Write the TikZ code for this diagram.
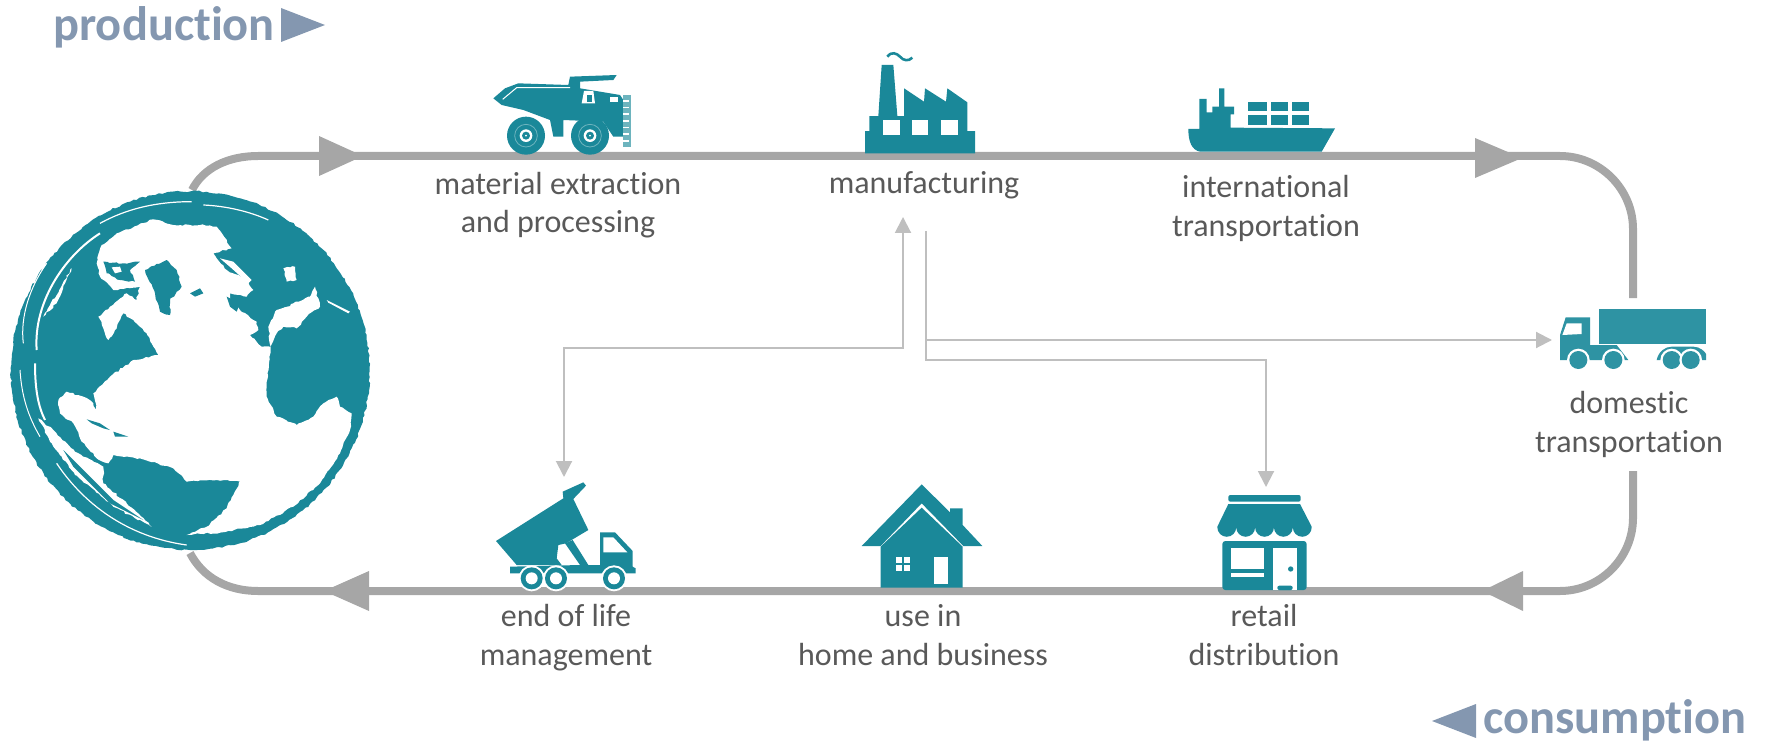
\documentclass[tikz,border=0pt]{standalone}
\usepackage{fontspec}
\setmainfont[Ligatures=NoCommon,RawFeature={-liga;-dlig}]{Carlito}
\usetikzlibrary{arrows.meta,decorations.pathmorphing}
\definecolor{teal1}{HTML}{1A8899}
\definecolor{teal2}{HTML}{2E93A3}
\definecolor{mainline}{HTML}{A6A6A6}
\definecolor{thinline}{HTML}{BFBFBF}
\definecolor{labeltext}{HTML}{595959}
\definecolor{phase}{HTML}{8497B0}
\tikzset{
  loopline/.style={draw=mainline,line width=4pt},
  loophead/.style={fill=mainline},
  flowplain/.style={draw=thinline,line width=1pt},
  headend/.style={-{Triangle[length=8pt,width=8pt]}},
  headboth/.style={{Triangle[length=8pt,width=8pt]}-{Triangle[length=8pt,width=8pt]}},
  steplabel/.style={anchor=base,align=center,inner sep=0pt,text=labeltext,font=\fontsize{16}{19.25}\selectfont},
  phaselabel/.style={anchor=base,inner sep=0pt,text=phase,font=\fontsize{24.2}{28}\selectfont\bfseries},
  ink/.style={fill=teal1},
  hole/.style={fill=white},
  jag/.style={decorate,decoration={random steps,segment length=1.6pt,amplitude=0.45pt}},
  zoomed/.style={shift={#1},x=0.16667pt,y=-0.16667pt}
}
\begin{document}
\begin{tikzpicture}[x=0.5pt,y=-0.5pt]
\useasboundingbox (0,0) rectangle (1765,743);
\pgfmathsetseed{42}
% named routing points
\coordinate (tl) at (192,190);
\coordinate (ttop) at (258,156);
\coordinate (tr) at (1560,156);
\coordinate (rtop) at (1633,229);
\coordinate (rtopend) at (1633,298);
\coordinate (rbotstart) at (1633,471);
\coordinate (rbot) at (1633,518);
\coordinate (br) at (1560,591);
\coordinate (bbot) at (258,591);
\coordinate (bl) at (190,553);
\coordinate (mfgin) at (903,217);
\coordinate (mfgout) at (926,231);
\coordinate (eolin) at (564,477);
\coordinate (retailin) at (1266,487);
\coordinate (truckin) at (1552,340);
\coordinate (mfgturn) at (926,340);
% main loop
\draw[loopline] (tl) .. controls (203,168) and (228,156) .. (ttop) -- (tr)
  .. controls (1600,156) and (1633,189) .. (rtop) -- (rtopend);
\draw[loopline] (rbotstart) -- (rbot) .. controls (1633,558) and (1600,591) .. (br) -- (bbot)
  .. controls (228,591) and (203,578) .. (bl);
\fill[loophead] (319,136) -- (363,156) -- (319,176) -- cycle;
\fill[loophead] (1475,138) -- (1522,158) -- (1475,178) -- cycle;
\fill[loophead] (1523,571) -- (1482,591) -- (1523,611) -- cycle;
\fill[loophead] (369,571) -- (324,591) -- (369,611) -- cycle;
% thin flows
\draw[flowplain,headboth] (mfgin) -- (mfgin |- 0,348) -- (eolin |- 0,348) -- (eolin);
\draw[flowplain,headend] (mfgout) -- (mfgturn) -- (truckin);
\draw[flowplain,headend] (mfgturn) -- (mfgout |- 0,360) -- (retailin |- 0,360) -- (retailin);
% globe
\begin{scope}[zoomed={(0,130)}]
  \fill[ink,jag] (571,722) circle[radius=538];
  \fill[hole,jag] (305,345) -- (350,310) -- (460,268) -- (520,285) -- (600,285) -- (650,290) -- (695,355)
    -- (640,370) -- (680,420) -- (740,450) -- (760,480) -- (740,500) -- (690,490) -- (690,510)
    -- (720,540) -- (770,575) -- (775,600) -- (750,615) -- (785,650) -- (812,650)
    -- (800,760) -- (800,800) -- (830,860) -- (890,885) -- (940,860) -- (970,820) -- (1010,800)
    -- (1020,830) -- (1055,850) -- (1050,900) -- (1020,970) -- (960,1060) -- (880,1130)
    -- (780,1185) -- (660,1208) -- (560,1215) -- (620,1190) -- (680,1135) -- (700,1095)
    -- (720,1055) -- (650,1050) -- (560,1055) -- (520,1015) -- (420,985) -- (340,975)
    -- (325,1000) -- (290,985) -- (240,925) -- (220,880) -- (180,850) -- (175,810) -- (200,785)
    -- (250,800) -- (280,820) -- (290,845) -- (280,790) -- (330,740) -- (400,690) -- (475,675)
    -- (440,610) -- (400,570) -- (370,550) -- (345,600) -- (325,630) -- (295,560) -- (330,530)
    -- (380,490) -- (410,510) -- (420,470) -- (340,480) -- (300,440) -- (290,400) -- cycle;
  % arctic islands
  \fill[ink,jag] (310,395) -- (370,400) -- (420,395) -- (390,420) -- (405,455) -- (360,450) -- (320,430) -- cycle;
  \fill[hole] (335,412) -- (360,410) -- (365,425) -- (345,430) -- cycle;
  % Mediterranean, inland seas
  \fill[hole,jag] (812,650) -- (805,590) -- (830,540) -- (880,520) -- (930,500) -- (945,470) -- (960,530)
    -- (920,560) -- (890,595) -- (850,590) -- (830,610) -- cycle;
  \fill[hole,jag] (850,415) -- (885,410) -- (890,450) -- (860,455) -- cycle;
  \fill[ink] (830,525) -- (875,515) -- (870,528) -- (835,535) -- cycle;
  \fill[hole] (660,385) -- (700,395) -- (755,450) -- (745,460) -- (695,415) -- cycle;
  % islands
  \fill[ink,jag] (435,420) -- (500,390) -- (530,420) -- (545,470) -- (510,510) -- (510,555) -- (480,545) -- (465,490) -- cycle;
  \fill[ink] (570,490) -- (600,475) -- (610,490) -- (585,500) -- cycle;
  \fill[ink] (260,868) -- (300,880) -- (330,900) -- (310,895) -- (275,880) -- cycle;
  \fill[ink] (340,905) -- (385,920) -- (345,920) -- cycle;
  \fill[ink] (680,500) -- (720,520) -- (710,545) -- (690,530) -- cycle;
  % rim streaks
  \fill[hole,jag] (130,560) -- (215,415) -- (170,520) -- cycle;
  \fill[hole,jag] (115,865) -- (160,900) -- (225,965) -- (310,1010) -- (310,1060) -- (380,1120) -- (455,1190)
    -- (340,1130) -- (225,1035) -- (160,950) -- cycle;
  \fill[ink] (190,960) -- (340,1110) -- (430,1170) -- (330,1120) -- (220,1010) -- cycle;
  \fill[hole] (980,510) -- (1050,545) -- (1045,550) -- (985,518) -- cycle;
  \draw[white,line width=1pt] (110,660) .. controls (100,520) and (190,380) .. (300,310);
  \draw[white,line width=0.6pt] (300,280) .. controls (400,225) and (500,215) .. (575,215);
  \draw[white,line width=0.6pt] (610,225) .. controls (680,228) and (750,245) .. (805,270);
  \draw[white,line width=1pt] (105,700) .. controls (105,780) and (115,830) .. (135,870);
  \draw[white,line width=0.5pt] (70,640) .. controls (60,560) and (90,470) .. (140,400);
  \draw[white,line width=0.5pt] (60,720) .. controls (65,800) and (85,860) .. (120,920);
  \draw[white,line width=0.6pt] (170,1000) .. controls (250,1120) and (380,1220) .. (560,1245);
\end{scope}
\node[circle,inner sep=0pt,minimum size=180pt] (globe) at (190,370) {};
% dump truck
\begin{scope}[zoomed={(480,65)}]
  \fill[ink] (40,100) -- (75,70) -- (115,55) -- (265,60) -- (270,35) -- (410,30) -- (400,45) -- (300,50)
    -- (300,70) -- (420,90) -- (440,120) -- (440,200) -- (450,205) -- (440,215) -- (400,215) -- (370,170)
    -- (250,165) -- (250,215) -- (220,215) -- (210,165) -- (130,135) -- (65,120) -- cycle;
  \draw[white,line width=0.5pt] (68,103) -- (110,68) -- (270,68);
  \fill[hole] (312,78) -- (340,78) -- (345,115) -- (305,115) -- cycle;
  \fill[ink] (322,90) rectangle (335,110);
  \fill[hole] (390,95) rectangle (415,110);
  \fill[teal2!70] (430,90) rectangle (452,245);
  \foreach \y in {105,125,145,165,185,205,225} \fill[hole] (430,\y) rectangle (447,\y+5);
  \foreach \cx/\cy in {138/212,330/212} {
    \fill[ink] (\cx,\cy) circle[radius=57];
    \draw[teal2!70,line width=0.4pt] (\cx,\cy) circle[radius=34];
    \fill[hole] (\cx,\cy) circle[radius=19];
    \fill[ink] (\cx,\cy) circle[radius=12];
    \fill[hole] (\cx,\cy) circle[radius=3];
  }
\end{scope}
% factory
\begin{scope}[zoomed={(850,45)}]
  \fill[ink] (45,325) -- (45,258) -- (58,258) -- (58,213) -- (85,213) -- (95,60) -- (130,60) -- (142,213)
    -- (162,213) -- (162,130) -- (222,170) -- (225,130) -- (288,170) -- (292,130) -- (352,172)
    -- (352,258) -- (375,258) -- (375,325) -- cycle;
  \fill[hole] (100,225) rectangle (150,270);
  \fill[hole] (187,225) rectangle (235,270);
  \fill[hole] (273,225) rectangle (323,270);
  \draw[teal1,line width=1.3pt] (112,35) .. controls (125,18) and (140,25) .. (150,35) .. controls (160,47) and (175,50) .. (187,38);
\end{scope}
% ship
\begin{scope}[zoomed={(1180,75)}]
  \fill[ink] (25,162) -- (58,162) -- (58,72) -- (80,72) -- (80,112) -- (97,112) -- (97,95) -- (117,95)
    -- (117,40) -- (133,40) -- (133,95) -- (162,95) -- (162,118) -- (152,118) -- (152,158) -- (465,160)
    -- (425,230) -- (60,230) .. controls (35,225) and (25,200) .. (25,162) -- cycle;
  \foreach \a/\b in {205/260,272/323,337/387} {
    \fill[ink] (\a,80) rectangle (\b,108);
    \fill[ink] (\a,120) rectangle (\b,150);
  }
\end{scope}
% tipper truck
\begin{scope}[zoomed={(490,475)}]
  \fill[ink] (18,198) -- (220,70) -- (218,50) -- (280,22) -- (288,32) -- (250,72) -- (295,165) -- (228,205)
    -- (205,210) -- (200,250) -- (215,270) -- (80,270) -- cycle;
  \fill[ink] (248,195) -- (295,270) -- (330,270) -- (330,172) -- (375,172) -- (428,228) -- (428,275) -- (437,280)
    -- (437,295) -- (60,295) -- (60,275) -- (270,270) -- (225,205) -- cycle;
  \fill[hole] (340,187) -- (370,187) -- (412,232) -- (340,232) -- cycle;
  \foreach \cx in {125,198,372} {
    \fill[hole] (\cx,310) circle[radius=39];
    \fill[ink] (\cx,310) circle[radius=33];
    \fill[hole] (\cx,310) circle[radius=18];
  }
\end{scope}
% house
\begin{scope}[zoomed={(850,475)}]
  \fill[ink] (35,213) -- (215,28) -- (300,112) -- (300,100) -- (338,100) -- (338,150) -- (397,213)
    -- (340,213) -- (215,85) -- (92,213) -- cycle;
  \fill[ink] (92,338) -- (92,215) -- (215,98) -- (338,215) -- (338,338) -- cycle;
  \fill[hole] (252,247) rectangle (295,328);
  \fill[hole] (137,245) rectangle (180,287);
  \fill[ink] (155,245) rectangle (161,287);
  \fill[ink] (137,263) rectangle (180,269);
\end{scope}
% shop
\begin{scope}[zoomed={(1200,480)}]
  \fill[ink,rounded corners=1pt] (85,45) rectangle (302,65);
  \fill[ink] (85,72) -- (300,72) -- (335,140) -- (335,142)
    arc[start angle=0,end angle=180,radius=28.3] arc[start angle=0,end angle=180,radius=28.3]
    arc[start angle=0,end angle=180,radius=28.3] arc[start angle=0,end angle=180,radius=28.3]
    arc[start angle=0,end angle=180,radius=28.3] -- (52,140) -- cycle;
  \fill[ink,rounded corners=1.5pt] (67,183) rectangle (320,330);
  \fill[hole] (92,203) rectangle (192,268);
  \fill[hole] (92,280) rectangle (192,292);
  \fill[hole] (220,203) rectangle (290,330);
  \fill[ink] (272,267) circle[radius=8];
  \fill[ink,rounded corners=1pt] (232,317) rectangle (278,330);
\end{scope}
% road truck
\begin{scope}[zoomed={(1400,130)}]
  \fill[teal2] (597,536) rectangle (918,643);
  \fill[teal2] (480,690) -- (480,615) -- (497,562) -- (570,562) -- (570,645) -- (650,645) -- (685,690) -- cycle;
  \fill[teal2] (770,690) .. controls (775,665) and (795,650) .. (815,650) -- (880,650) .. controls (900,650) and (915,665) .. (918,672) -- (918,690) -- cycle;
  \fill[hole] (487,615) -- (500,580) -- (545,580) -- (545,612) -- cycle;
  \foreach \cx in {535,640,815,872} {
    \fill[hole] (\cx,690) circle[radius=34];
    \fill[teal2] (\cx,690) circle[radius=27];
  }
\end{scope}
% labels (anchored on the last line's baseline)
\node[steplabel] (extract) at (558,233) {material extraction\\and processing};
\node[steplabel] (mfg) at (924,194) {manufacturing};
\node[steplabel] (intl) at (1266,236) {international\\transportation};
\node[steplabel] (dom) at (1629,452) {domestic\\transportation};
\node[steplabel] (retail) at (1264,665) {retail\\distribution};
\node[steplabel] (use) at (923,665) {use in\\home and business};
\node[steplabel] (eol) at (566,665) {end of life\\management};
\node[phaselabel,anchor=base west] (prod) at (53,41) {production};
\fill[phase] (281,8) -- (325,25) -- (281,42) -- cycle;
\node[phaselabel,anchor=base west] (cons) at (1483,733) {consumption};
\fill[phase] (1476,704) -- (1432,721) -- (1476,738) -- cycle;
\end{tikzpicture}
\end{document}
